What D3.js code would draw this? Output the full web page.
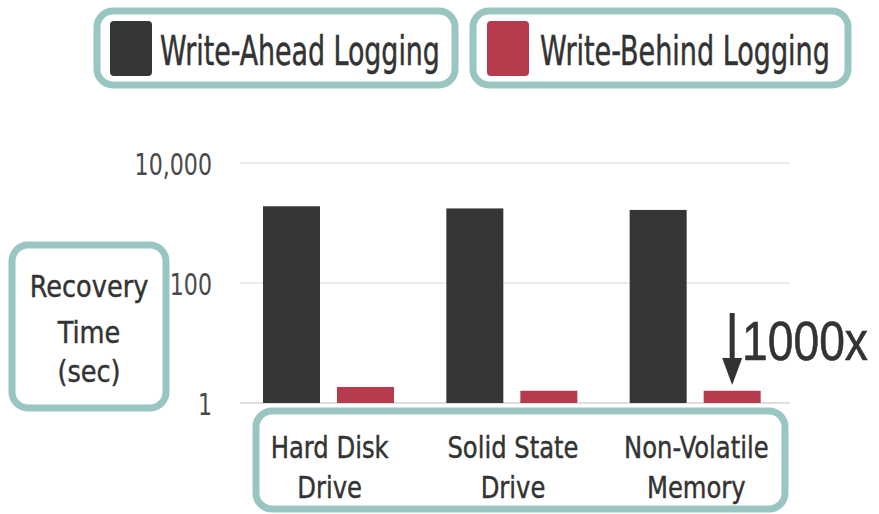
<!DOCTYPE html>
<html>
<head>
<meta charset="utf-8">
<script src="https://cdn.jsdelivr.net/npm/d3@7"></script>
<style>
  body { margin: 0; background: #fff; }
  svg { display: block; }
  text { font-family: "DejaVu Sans Condensed", "DejaVu Sans", sans-serif; fill: #333; }
</style>
</head>
<body>
<svg id="chart"></svg>
<script>
const width = 879;
const height = 514;

// data
const categories = ['Hard Disk Drive', 'Solid State Drive', 'Non-Volatile Memory'];
const categoryLines = [['Hard Disk', 'Drive'], ['Solid State', 'Drive'], ['Non-Volatile', 'Memory']];
const seriesNames = ['Write-Ahead Logging', 'Write-Behind Logging'];
const walValues = [1900, 1750, 1650];
const wblValues = [1.85, 1.6, 1.6];
const tickValues = [1, 100, 10000];
const tickLabels = ['1', '100', '10,000'];
const colors = ['#363636', '#b63b4c'];

const teal = '#99c6c3';

const svg = d3.select('#chart')
  .attr('width', width)
  .attr('height', height);

const x = d3.scaleBand()
  .domain(categories)
  .range([240, 790]);

const xs = d3.scaleBand()
  .domain(seriesNames)
  .range([23, 154])
  .paddingInner(0.23);

const y = d3.scaleLog()
  .domain([1, 10000])
  .range([403, 163]);

// squeeze a text horizontally so it is w wide, starting at x0
const fitWidth = (sel, x0, y0, w) => {
  const n = sel.node().getComputedTextLength();
  sel.attr('transform', `translate(${x0},${y0}) scale(${w / n},1)`);
};

// gridlines
svg.append('g')
  .selectAll('line')
  .data(tickValues)
  .join('line')
    .attr('x1', 240)
    .attr('x2', 790)
    .attr('y1', d => y(d))
    .attr('y2', d => y(d))
    .attr('stroke', (d, i) => i === 0 ? '#d4d4d4' : '#e4e4e4')
    .attr('stroke-width', 1.5);

// tick labels (narrow face, squeezed)
svg.append('g')
  .selectAll('text')
  .data(tickValues)
  .join('text')
    .attr('transform', d => `translate(212,${y(d) + 12}) scale(0.82,1)`)
    .attr('text-anchor', 'end')
    .attr('font-size', 30)
    .style('fill', '#4a4a4a')
    .text((d, i) => tickLabels[i]);

// bars
const series = [walValues, wblValues];
const groups = svg.append('g')
  .selectAll('g')
  .data(categories)
  .join('g')
    .attr('transform', d => `translate(${x(d)},0)`);

groups.selectAll('rect')
  .data((c, ci) => seriesNames.map((s, si) => ({s, si, v: series[si][ci]})))
  .join('rect')
    .attr('x', d => xs(d.s))
    .attr('width', xs.bandwidth())
    .attr('y', d => y(d.v))
    .attr('height', d => y(1) - y(d.v))
    .attr('fill', d => colors[d.si]);

// rounded teal boxes
const box = (x0, y0, w, h) => svg.append('rect')
  .attr('x', x0).attr('y', y0)
  .attr('width', w).attr('height', h)
  .attr('rx', 16)
  .attr('fill', 'none')
  .attr('stroke', teal)
  .attr('stroke-width', 7);

// legend
const legend = [
  {x0: 97, w: 358, sx: 110, tx: 160, tl: 280},
  {x0: 473, w: 375, sx: 487, tx: 540, tl: 290}
];
legend.forEach((l, i) => {
  box(l.x0, 11, l.w, 74);
  svg.append('rect')
    .attr('x', l.sx).attr('y', 21)
    .attr('width', 42).attr('height', 55)
    .attr('rx', 4)
    .attr('fill', colors[i]);
  svg.append('text')
    .attr('font-size', 40)
    .style('stroke', '#333')
    .style('stroke-width', 0.5)
    .text(seriesNames[i])
    .call(fitWidth, l.tx, 65, l.tl);
});

// y axis title
box(12, 245, 154, 163);
svg.append('text')
  .attr('transform', 'translate(89,0) scale(0.95,1)')
  .attr('text-anchor', 'middle')
  .attr('font-size', 30)
  .style('stroke', '#333')
  .style('stroke-width', 0.4)
  .selectAll('tspan')
  .data(['Recovery', 'Time', '(sec)'])
  .join('tspan')
    .attr('x', 0)
    .attr('y', (d, i) => [297, 343, 382][i])
    .text(d => d);

// category labels
box(256, 411, 529, 98);
svg.append('g')
  .selectAll('text')
  .data(categories)
  .join('text')
    .attr('transform', d => `translate(${x(d) + x.bandwidth() / 2 - 2},0) scale(0.9,1)`)
    .attr('text-anchor', 'middle')
    .attr('font-size', 30)
    .style('stroke', '#333')
    .style('stroke-width', 0.4)
    .selectAll('tspan')
    .data((d, i) => categoryLines[i])
    .join('tspan')
      .attr('x', 0)
      .attr('y', (d, i) => 458 + i * 40)
      .text(d => d);

// annotation arrow
const ax = x(categories[2]) + xs(seriesNames[1]) + xs.bandwidth() / 2;
svg.append('line')
  .attr('x1', ax).attr('x2', ax)
  .attr('y1', 313).attr('y2', 362)
  .attr('stroke', '#333')
  .attr('stroke-width', 5);
svg.append('path')
  .attr('d', `M${ax - 10},358 L${ax + 10},358 L${ax},385 Z`)
  .attr('fill', '#333');
svg.append('text')
  .attr('font-size', 56)
  .style('font-family', '"Liberation Sans", Arial, sans-serif')
  .style('stroke', '#333')
  .style('stroke-width', 0.6)
  .text('1000x')
  .call(fitWidth, 742, 360, 126);
</script>
</body>
</html>
